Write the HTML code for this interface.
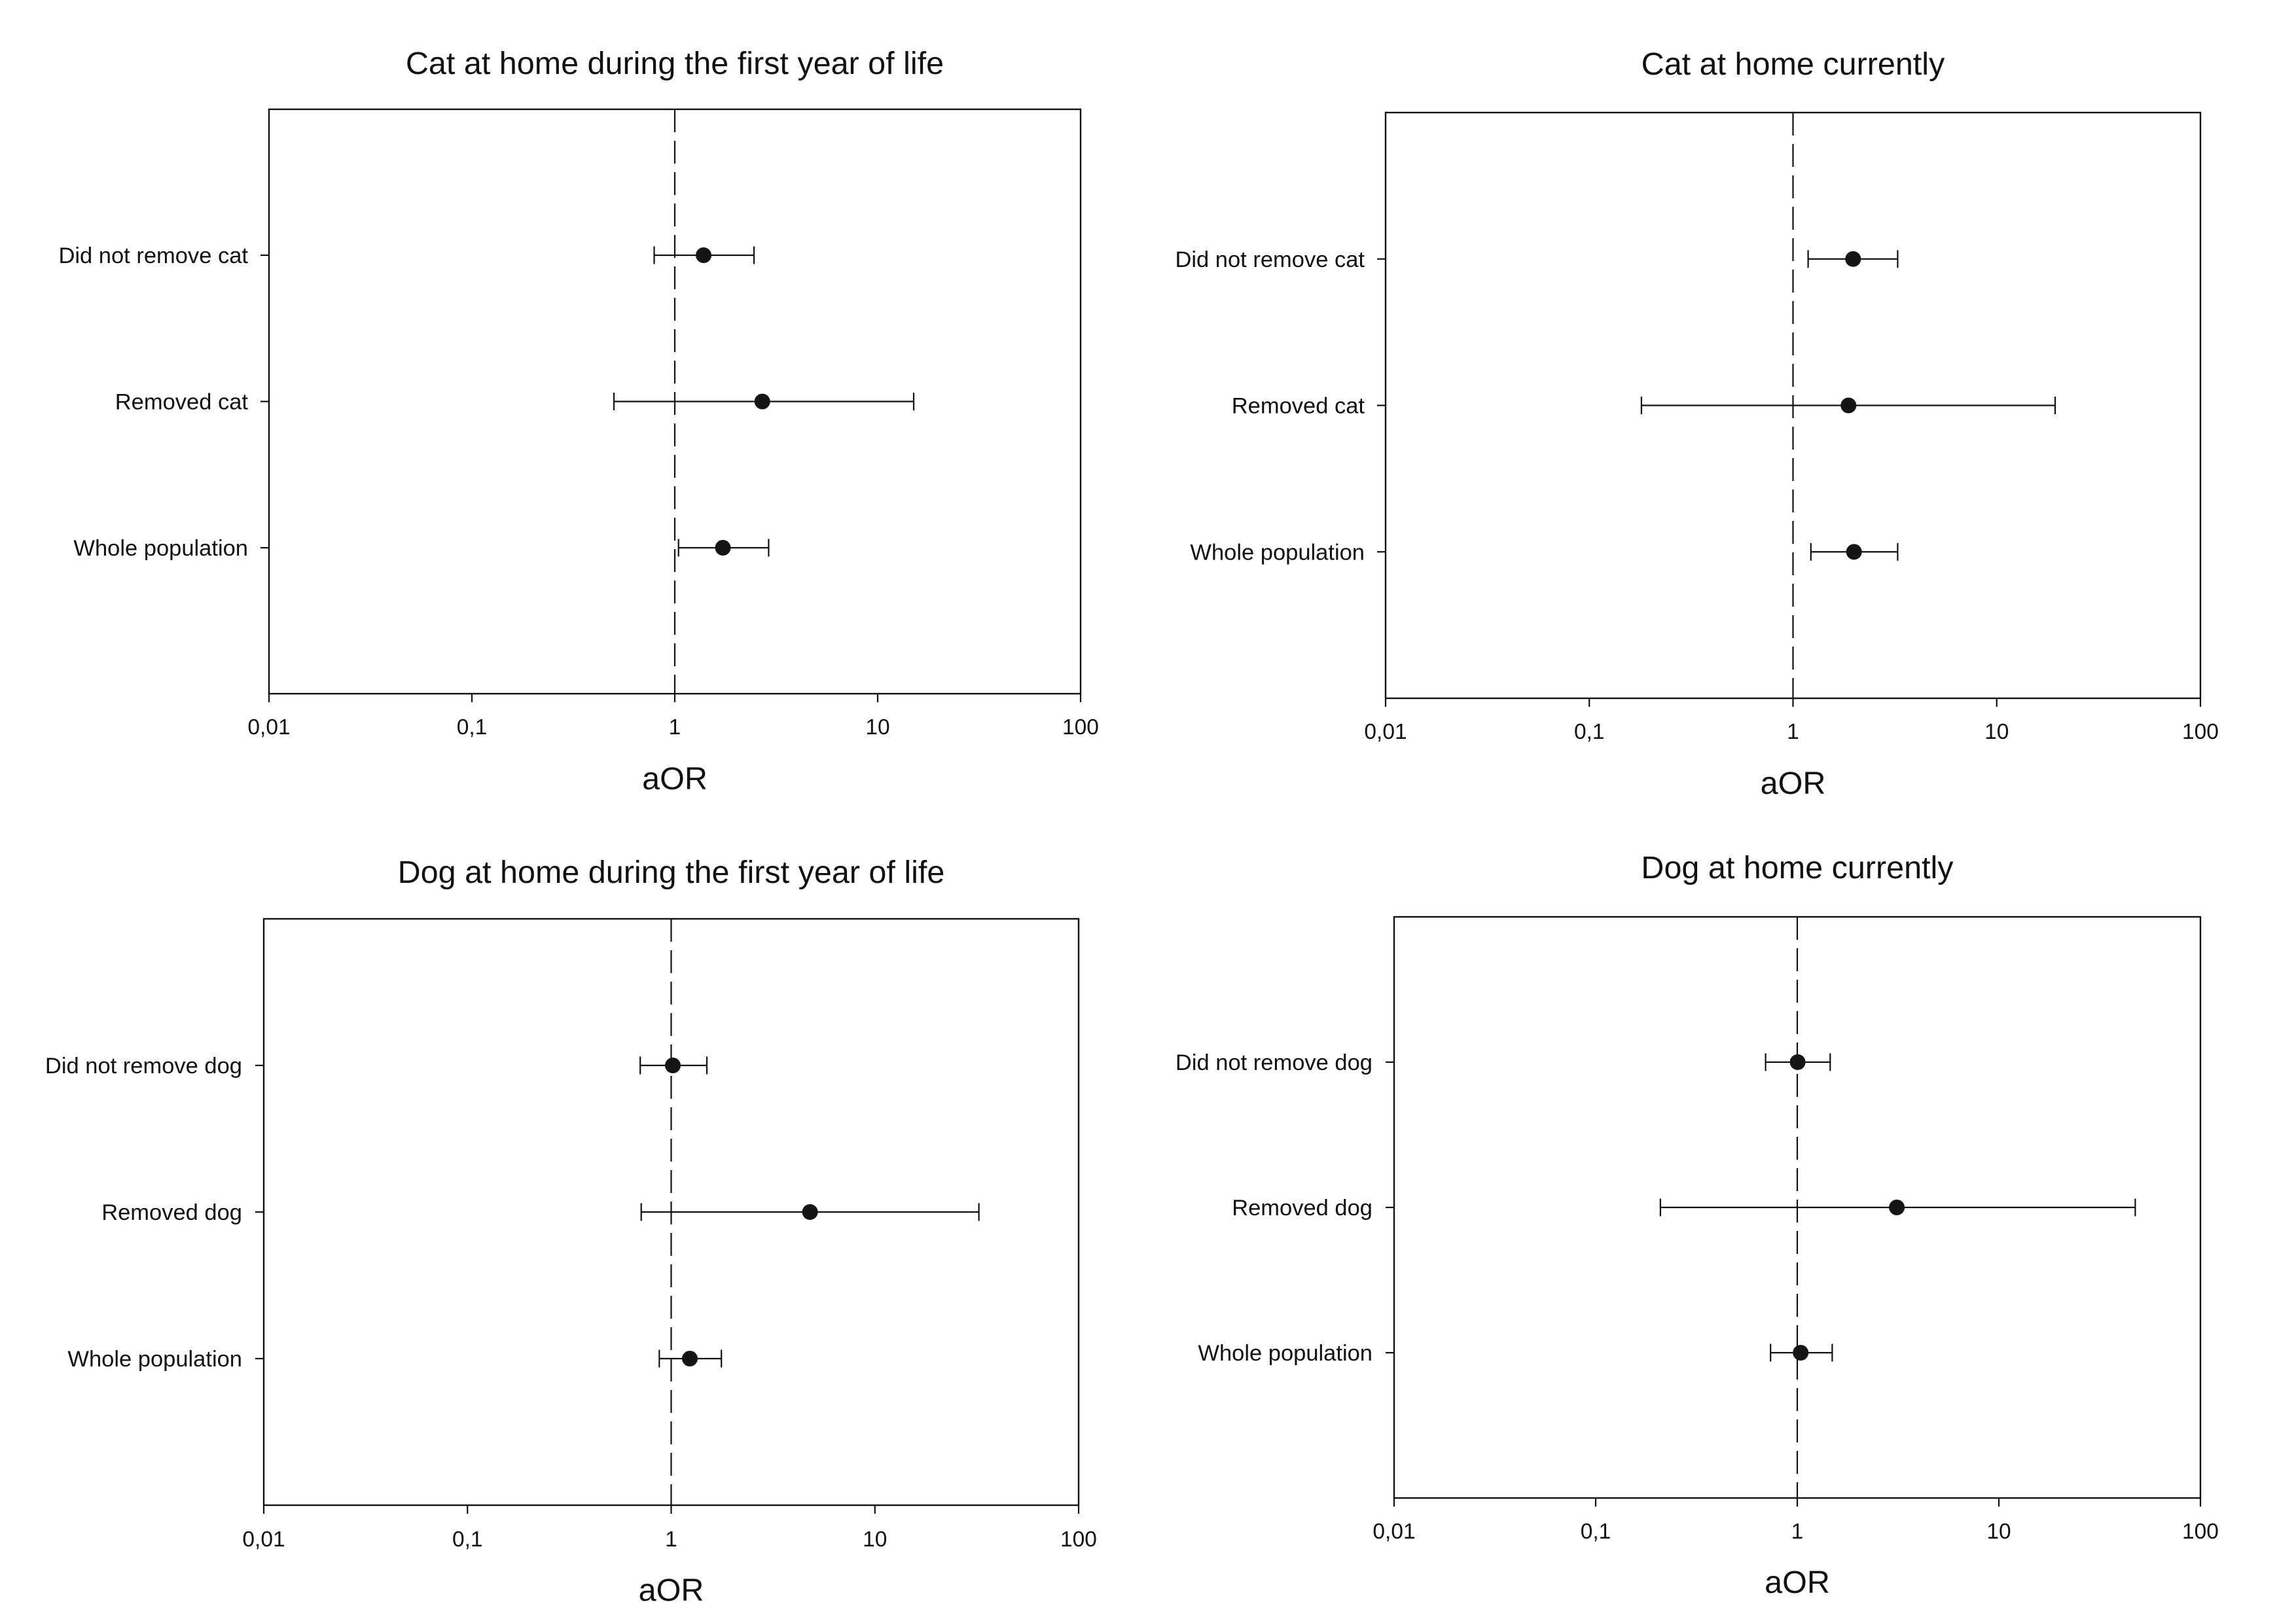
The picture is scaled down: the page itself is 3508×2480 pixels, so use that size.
<!DOCTYPE html>
<html>
<head>
<meta charset="utf-8">
<style>
  html, body { margin: 0; padding: 0; background: #ffffff; }
  body { width: 3508px; height: 2480px; overflow: hidden; }
  svg { display: block; }
  text { font-family: "Liberation Sans", Arial, sans-serif; fill: #111; }
  .title { font-size: 48.5px; text-anchor: middle; }
  .xl { font-size: 48.5px; text-anchor: middle; }
  .tick { font-size: 33.5px; text-anchor: middle; }
  .yl { font-size: 34.5px; text-anchor: end; }
  .ax { stroke: #111; stroke-width: 2.4; fill: none; }
  .tk { stroke: #111; stroke-width: 2.2; }
  .eb { stroke: #111; stroke-width: 2.2; fill: none; }
  .ref { stroke: #111; stroke-width: 2.2; stroke-dasharray: 35 13; }
  .pt { fill: #151515; }
</style>
</head>
<body>
<svg width="3508" height="2480" viewBox="0 0 3508 2480" xmlns="http://www.w3.org/2000/svg">
  <rect x="0" y="0" width="3508" height="2480" fill="#ffffff"/>

  <!-- ================= Plot 1: Cat first year ================= -->
  <text class="title" x="1031" y="113">Cat at home during the first year of life</text>
  <line class="ref" x1="1031" y1="167" x2="1031" y2="1060"/>
  <rect class="ax" x="411" y="167" width="1240" height="893"/>
  <!-- x ticks -->
  <line class="tk" x1="411" y1="1060" x2="411" y2="1073"/>
  <line class="tk" x1="721" y1="1060" x2="721" y2="1073"/>
  <line class="tk" x1="1031" y1="1060" x2="1031" y2="1073"/>
  <line class="tk" x1="1341" y1="1060" x2="1341" y2="1073"/>
  <line class="tk" x1="1651" y1="1060" x2="1651" y2="1073"/>
  <text class="tick" x="411" y="1122">0,01</text>
  <text class="tick" x="721" y="1122">0,1</text>
  <text class="tick" x="1031" y="1122">1</text>
  <text class="tick" x="1341" y="1122">10</text>
  <text class="tick" x="1651" y="1122">100</text>
  <text class="xl" x="1031" y="1206">aOR</text>
  <!-- y ticks -->
  <line class="tk" x1="398" y1="390" x2="411" y2="390"/>
  <line class="tk" x1="398" y1="613.5" x2="411" y2="613.5"/>
  <line class="tk" x1="398" y1="837" x2="411" y2="837"/>
  <text class="yl" x="379" y="402">Did not remove cat</text>
  <text class="yl" x="379" y="625.5">Removed cat</text>
  <text class="yl" x="379" y="849">Whole population</text>
  <!-- data -->
  <path class="eb" d="M999.5 390 H1152 M999.5 376.5 V403.5 M1152 376.5 V403.5"/>
  <circle class="pt" cx="1075" cy="390" r="12"/>
  <path class="eb" d="M938 613.5 H1396 M938 600 V627 M1396 600 V627"/>
  <circle class="pt" cx="1164.7" cy="613.5" r="12"/>
  <path class="eb" d="M1036.7 837 H1174.4 M1036.7 823.5 V850.5 M1174.4 823.5 V850.5"/>
  <circle class="pt" cx="1104.5" cy="837" r="12"/>

  <!-- ================= Plot 2: Cat currently ================= -->
  <text class="title" x="2739.5" y="114">Cat at home currently</text>
  <line class="ref" x1="2739.5" y1="172" x2="2739.5" y2="1067"/>
  <rect class="ax" x="2117" y="172" width="1245" height="895"/>
  <line class="tk" x1="2117" y1="1067" x2="2117" y2="1080"/>
  <line class="tk" x1="2428.25" y1="1067" x2="2428.25" y2="1080"/>
  <line class="tk" x1="2739.5" y1="1067" x2="2739.5" y2="1080"/>
  <line class="tk" x1="3050.75" y1="1067" x2="3050.75" y2="1080"/>
  <line class="tk" x1="3362" y1="1067" x2="3362" y2="1080"/>
  <text class="tick" x="2117" y="1129">0,01</text>
  <text class="tick" x="2428.25" y="1129">0,1</text>
  <text class="tick" x="2739.5" y="1129">1</text>
  <text class="tick" x="3050.75" y="1129">10</text>
  <text class="tick" x="3362" y="1129">100</text>
  <text class="xl" x="2739.5" y="1213">aOR</text>
  <line class="tk" x1="2104" y1="395.75" x2="2117" y2="395.75"/>
  <line class="tk" x1="2104" y1="619.5" x2="2117" y2="619.5"/>
  <line class="tk" x1="2104" y1="843.25" x2="2117" y2="843.25"/>
  <text class="yl" x="2085" y="407.75">Did not remove cat</text>
  <text class="yl" x="2085" y="631.5">Removed cat</text>
  <text class="yl" x="2085" y="855.25">Whole population</text>
  <path class="eb" d="M2762.6 395.75 H2899.4 M2762.6 382.25 V409.25 M2899.4 382.25 V409.25"/>
  <circle class="pt" cx="2831.3" cy="395.75" r="12"/>
  <path class="eb" d="M2507.9 619.5 H3140 M2507.9 606 V633 M3140 606 V633"/>
  <circle class="pt" cx="2824.3" cy="619.5" r="12"/>
  <path class="eb" d="M2766.8 843.25 H2899.4 M2766.8 829.75 V856.75 M2899.4 829.75 V856.75"/>
  <circle class="pt" cx="2832.7" cy="843.25" r="12"/>

  <!-- ================= Plot 3: Dog first year ================= -->
  <text class="title" x="1025.5" y="1349">Dog at home during the first year of life</text>
  <line class="ref" x1="1025.5" y1="1404" x2="1025.5" y2="2300"/>
  <rect class="ax" x="403" y="1404" width="1245" height="896"/>
  <line class="tk" x1="403" y1="2300" x2="403" y2="2313"/>
  <line class="tk" x1="714.25" y1="2300" x2="714.25" y2="2313"/>
  <line class="tk" x1="1025.5" y1="2300" x2="1025.5" y2="2313"/>
  <line class="tk" x1="1336.75" y1="2300" x2="1336.75" y2="2313"/>
  <line class="tk" x1="1648" y1="2300" x2="1648" y2="2313"/>
  <text class="tick" x="403" y="2363">0,01</text>
  <text class="tick" x="714.25" y="2363">0,1</text>
  <text class="tick" x="1025.5" y="2363">1</text>
  <text class="tick" x="1336.75" y="2363">10</text>
  <text class="tick" x="1648" y="2363">100</text>
  <text class="xl" x="1025.5" y="2446">aOR</text>
  <line class="tk" x1="390" y1="1628" x2="403" y2="1628"/>
  <line class="tk" x1="390" y1="1852" x2="403" y2="1852"/>
  <line class="tk" x1="390" y1="2076" x2="403" y2="2076"/>
  <text class="yl" x="370" y="1640">Did not remove dog</text>
  <text class="yl" x="370" y="1864">Removed dog</text>
  <text class="yl" x="370" y="2088">Whole population</text>
  <path class="eb" d="M978.2 1628 H1080 M978.2 1614.5 V1641.5 M1080 1614.5 V1641.5"/>
  <circle class="pt" cx="1028" cy="1628" r="12"/>
  <path class="eb" d="M979.7 1852 H1495.6 M979.7 1838.5 V1865.5 M1495.6 1838.5 V1865.5"/>
  <circle class="pt" cx="1237.6" cy="1852" r="12"/>
  <path class="eb" d="M1007.3 2076 H1102.2 M1007.3 2062.5 V2089.5 M1102.2 2062.5 V2089.5"/>
  <circle class="pt" cx="1054" cy="2076" r="12"/>

  <!-- ================= Plot 4: Dog currently ================= -->
  <text class="title" x="2746" y="1342">Dog at home currently</text>
  <line class="ref" x1="2746" y1="1401" x2="2746" y2="2289"/>
  <rect class="ax" x="2130" y="1401" width="1232" height="888"/>
  <line class="tk" x1="2130" y1="2289" x2="2130" y2="2302"/>
  <line class="tk" x1="2438" y1="2289" x2="2438" y2="2302"/>
  <line class="tk" x1="2746" y1="2289" x2="2746" y2="2302"/>
  <line class="tk" x1="3054" y1="2289" x2="3054" y2="2302"/>
  <line class="tk" x1="3362" y1="2289" x2="3362" y2="2302"/>
  <text class="tick" x="2130" y="2351">0,01</text>
  <text class="tick" x="2438" y="2351">0,1</text>
  <text class="tick" x="2746" y="2351">1</text>
  <text class="tick" x="3054" y="2351">10</text>
  <text class="tick" x="3362" y="2351">100</text>
  <text class="xl" x="2746" y="2434">aOR</text>
  <line class="tk" x1="2117" y1="1623" x2="2130" y2="1623"/>
  <line class="tk" x1="2117" y1="1845" x2="2130" y2="1845"/>
  <line class="tk" x1="2117" y1="2067" x2="2130" y2="2067"/>
  <text class="yl" x="2097" y="1635">Did not remove dog</text>
  <text class="yl" x="2097" y="1857">Removed dog</text>
  <text class="yl" x="2097" y="2079">Whole population</text>
  <path class="eb" d="M2697.6 1623 H2796.3 M2697.6 1609.5 V1636.5 M2796.3 1609.5 V1636.5"/>
  <circle class="pt" cx="2746.6" cy="1623" r="12"/>
  <path class="eb" d="M2536.9 1845 H3262.4 M2536.9 1831.5 V1858.5 M3262.4 1831.5 V1858.5"/>
  <circle class="pt" cx="2898.1" cy="1845" r="12"/>
  <path class="eb" d="M2705.2 2067 H2799.4 M2705.2 2053.5 V2080.5 M2799.4 2053.5 V2080.5"/>
  <circle class="pt" cx="2751.2" cy="2067" r="12"/>
</svg>
</body>
</html>
